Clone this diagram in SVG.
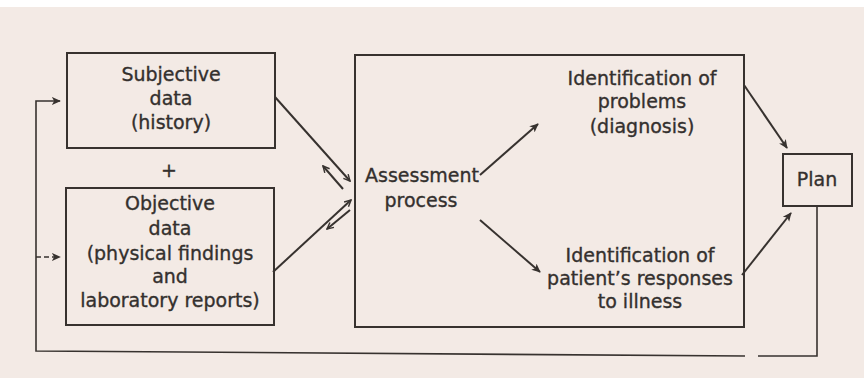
<svg xmlns="http://www.w3.org/2000/svg" width="864" height="378" viewBox="0 0 864 378">
  <defs>
    <style>
      .box { fill: none; stroke: #37322f; stroke-width: 2; }
      .ln { fill: none; stroke: #37322f; stroke-width: 2; }
      .thin { fill: none; stroke: #37322f; stroke-width: 1.6; }
      .lbl { font-family: "DejaVu Sans", "Liberation Sans", sans-serif; font-size: 19px; fill: #34302e; stroke: #34302e; stroke-width: 0.35; text-anchor: middle; }
    </style>
    <!-- filled arrowhead -->
    <marker id="ahl" viewBox="0 0 10 10" refX="9" refY="5" markerWidth="9" markerHeight="9" markerUnits="userSpaceOnUse" orient="auto">
      <path d="M0,0.5 L10,5 L0,9.5 L2.5,5 Z" fill="#37322f"/>
    </marker>
    <!-- small open arrowhead for the two-way data arrows -->
    <marker id="open" viewBox="0 0 10 10" refX="9" refY="5" markerWidth="8" markerHeight="8" markerUnits="userSpaceOnUse" orient="auto">
      <path d="M1,1 L9,5 L1,9" stroke="#37322f" stroke-width="1.8" fill="none"/>
    </marker>
  </defs>

  <!-- paper -->
  <rect x="0" y="0" width="864" height="378" fill="#f3eae5"/>
  <rect x="0" y="0" width="864" height="7" fill="#ffffff"/>

  <!-- connectors -->
  <g id="connectors">
    <!-- feedback loop from Plan back to the data boxes -->
    <path class="thin" d="M817,206 L817,356 L758,356"/>
    <path class="thin" d="M745,356 L36,351 L36,101 L60,101" marker-end="url(#ahl)"/>
    <path class="thin" d="M36,257 L60,257" stroke-dasharray="5 3" marker-end="url(#ahl)"/>
    <!-- data boxes to assessment and back -->
    <path class="ln" d="M275,97 L350,181" marker-end="url(#open)"/>
    <path class="ln" d="M343,189 L323,166" marker-end="url(#open)"/>
    <path class="ln" d="M273,272 L351,200" marker-end="url(#open)"/>
    <path class="ln" d="M350,210 L327,229" marker-end="url(#open)"/>
    <!-- assessment to its two outcomes -->
    <path class="ln" d="M480,175 L538,124" marker-end="url(#ahl)"/>
    <path class="ln" d="M480,220 L540,272" marker-end="url(#ahl)"/>
    <!-- outcomes to Plan -->
    <path class="ln" d="M744,85 L787,148" marker-end="url(#ahl)"/>
    <path class="ln" d="M742,275 L791,213" marker-end="url(#ahl)"/>
  </g>

  <g id="subjective">
    <rect class="box" x="67" y="53" width="208" height="95"/>
    <text class="lbl" x="171" y="81">Subjective</text>
    <text class="lbl" x="171" y="105">data</text>
    <text class="lbl" x="171" y="129">(history)</text>
  </g>

  <g id="plus">
    <text class="lbl" x="169" y="177">+</text>
  </g>

  <g id="objective">
    <rect class="box" x="66" y="188" width="208" height="137"/>
    <text class="lbl" x="170" y="210">Objective</text>
    <text class="lbl" x="170" y="235">data</text>
    <text class="lbl" x="170" y="260">(physical findings</text>
    <text class="lbl" x="170" y="283">and</text>
    <text class="lbl" x="170" y="307">laboratory reports)</text>
  </g>

  <g id="assessment">
    <rect class="box" x="355" y="55" width="389" height="272"/>
    <text class="lbl" x="422" y="182">Assessment</text>
    <text class="lbl" x="421" y="207">process</text>
  </g>

  <g id="problems">
    <text class="lbl" x="642" y="85">Identification of</text>
    <text class="lbl" x="642" y="108">problems</text>
    <text class="lbl" x="642" y="133">(diagnosis)</text>
  </g>

  <g id="responses">
    <text class="lbl" x="640" y="262">Identification of</text>
    <text class="lbl" x="640" y="285">patient’s responses</text>
    <text class="lbl" x="640" y="308">to illness</text>
  </g>

  <g id="plan">
    <rect class="box" x="783" y="154" width="69" height="52"/>
    <text class="lbl" x="817" y="186">Plan</text>
  </g>
</svg>
